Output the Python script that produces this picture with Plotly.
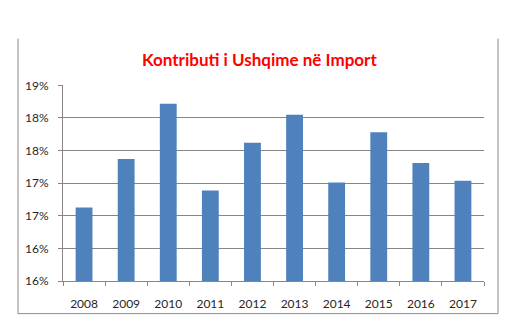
import plotly.graph_objects as go

years = ["2008", "2009", "2010", "2011", "2012", "2013", "2014", "2015", "2016", "2017"]
values = [0.1663, 0.1737, 0.1822, 0.1689, 0.1762, 0.1805, 0.1701, 0.1778, 0.1731, 0.1704]
tick_vals = [0.155, 0.160, 0.165, 0.170, 0.175, 0.180, 0.185]
tick_text = ["16%", "16%", "17%", "17%", "18%", "18%", "19%"]
title_text = "Kontributi i Ushqime në Import"

W, H = 513, 334
def px(x):
    return x / W
def py(y):
    return (H - y) / H

fig = go.Figure(go.Bar(x=years, y=values, marker=dict(color="#4F81BD", line=dict(width=0)), width=0.4))

grey = "#868686"
fig.update_layout(
    width=W, height=H,
    margin=dict(l=0, r=0, t=0, b=0),
    paper_bgcolor="white", plot_bgcolor="white",
    showlegend=False,
    font=dict(family="Lato, 'DejaVu Sans', sans-serif", size=12, color="#262626"),
    xaxis=dict(domain=[px(63), px(484)], type="category", showline=True, linecolor=grey,
               linewidth=1, ticks="outside", tickson="boundaries", ticklen=4, tickcolor=grey,
               showgrid=False, tickfont=dict(size=12), ticklabelstandoff=11),
    yaxis=dict(domain=[py(286), py(81)], range=[0.155, 0.185], tickvals=tick_vals, ticktext=tick_text,
               showline=True, linecolor=grey, linewidth=1, ticks="outside", ticklen=4, tickcolor=grey,
               showgrid=True, gridcolor=grey, gridwidth=1, zeroline=False, tickfont=dict(size=12),
               ticklabelstandoff=7),
    annotations=[dict(text="<b>" + title_text + "</b>", x=px(259), y=py(54), xref="paper", yref="paper",
                      xanchor="center", yanchor="middle", showarrow=False,
                      font=dict(family="Lato, sans-serif", size=17, color="#FF0000"))],
    shapes=[
        dict(type="line", xref="paper", yref="paper", x0=px(18), x1=px(18), y0=py(320), y1=py(32), line=dict(color="#8C8C8C", width=1)),
        dict(type="line", xref="paper", yref="paper", x0=px(498), x1=px(498), y0=py(320), y1=py(32), line=dict(color="#8C8C8C", width=1)),
        dict(type="line", xref="paper", yref="paper", x0=px(18), x1=px(498), y0=py(320), y1=py(320), line=dict(color="#8C8C8C", width=1)),
    ],
)
fig.write_html("out.html")
